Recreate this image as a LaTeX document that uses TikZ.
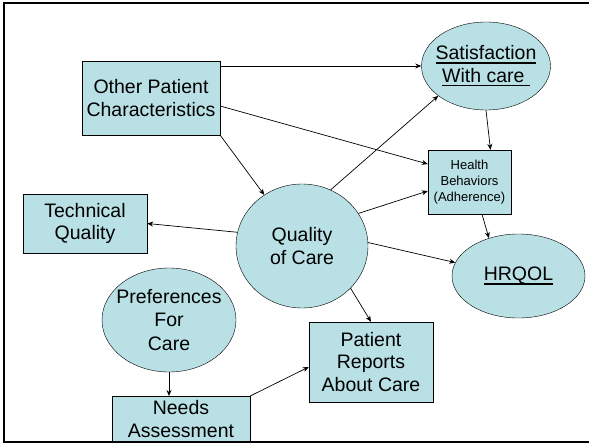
\documentclass[tikz,border=0pt]{standalone}
\usepackage{fontspec}
\setmainfont{Liberation Sans}
\usetikzlibrary{arrows.meta,shapes.geometric}
\definecolor{careblue}{RGB}{185,224,228}
\newcommand{\careul}[1]{\setbox0\hbox{#1}\leavevmode\rlap{\rule[-4pt]{\wd0}{1.5pt}}\box0}
\tikzset{
  box/.style={draw, fill=careblue, rectangle, inner sep=0pt, align=center},
  oval/.style={draw, fill=careblue, ellipse, inner sep=0pt},
  inlabel/.style={align=center, inner sep=0pt},
  conn/.style={-{Stealth[length=6pt,width=5pt]}, line width=0.7pt}
}

\begin{document}
\begin{tikzpicture}[x=1pt, y=-1pt, font=\fontsize{19.5}{22.5}\selectfont]
		%%%%% START %%%%%
		\useasboundingbox (0,0) rectangle (589,444);
		\clip (0,0) rectangle (589,444);
		
		\node[box, minimum width=138, minimum height=74] (other) at (151, 98) {Other Patient\\Characteristics};
		\node[box, minimum width=124, minimum height=59] (tech) at (85, 223.5) {Technical\\Quality};
		\node[box, minimum width=83, minimum height=64, font=\fontsize{13}{16}\selectfont] (health) at (469.5, 182) {Health\\Behaviors\\(Adherence)};
		\node[box, minimum width=124, minimum height=80] (reports) at (371, 362) {Patient\\Reports\\About Care};
		\node[box, minimum width=138, minimum height=46, anchor=north] (needs) at (181, 396) {Needs\\Assessment};
		
		\node[oval, minimum width=129, minimum height=88,
		  label={[inlabel]center:\careul{Satisfaction}\\\careul{With care\ }}] (sat) at (486, 66) {};
		\node[oval, minimum width=133, minimum height=84,
		  label={[inlabel]center:\careul{HRQOL}}] (hrqol) at (518.5, 276) {};
		\node[oval, minimum width=132, minimum height=124,
		  label={[inlabel]center:Quality\\of Care}] (qoc) at (302, 246) {};
		\node[oval, minimum width=134, minimum height=104,
		  label={[inlabel, font=\fontsize{19.5}{23.5}\selectfont]center:Preferences\\For\\Care}] (pref) at (169, 320) {};
		
		\draw[conn] (other.east |- sat.west) -- (sat.west);
		\draw[conn] ([yshift=-8pt]other.east) -- ([yshift=18pt]health.west);
		\draw[conn] (other.south east) -- (qoc);
		
		\draw[conn] (qoc.63) -- (sat.212);
		\draw[conn] (qoc.30) -- ([yshift=-9pt]health.west);
		\draw[conn] (qoc.168) -- (tech.east);
		\draw[conn] (qoc.3) -- (hrqol.168);
		\draw[conn] (qoc.-41) -- (reports.north);
		
		\draw[conn] (sat.south) -- ([xshift=21pt]health.north);
		\draw[conn] ([xshift=12.5pt]health.south) -- (hrqol.128);
		
		\draw[conn] (pref.south) -- (pref.south |- needs.north);
		\draw[conn] (needs.north east) -- ([yshift=-5pt]reports.west);
		
		% frame, open on the right
		\draw[line width=2.5pt] (589, 3) -- (4, 3) -- (4, 442) -- (589, 442);
		%%%%% END %%%%%
	\end{tikzpicture}
\end{document}
